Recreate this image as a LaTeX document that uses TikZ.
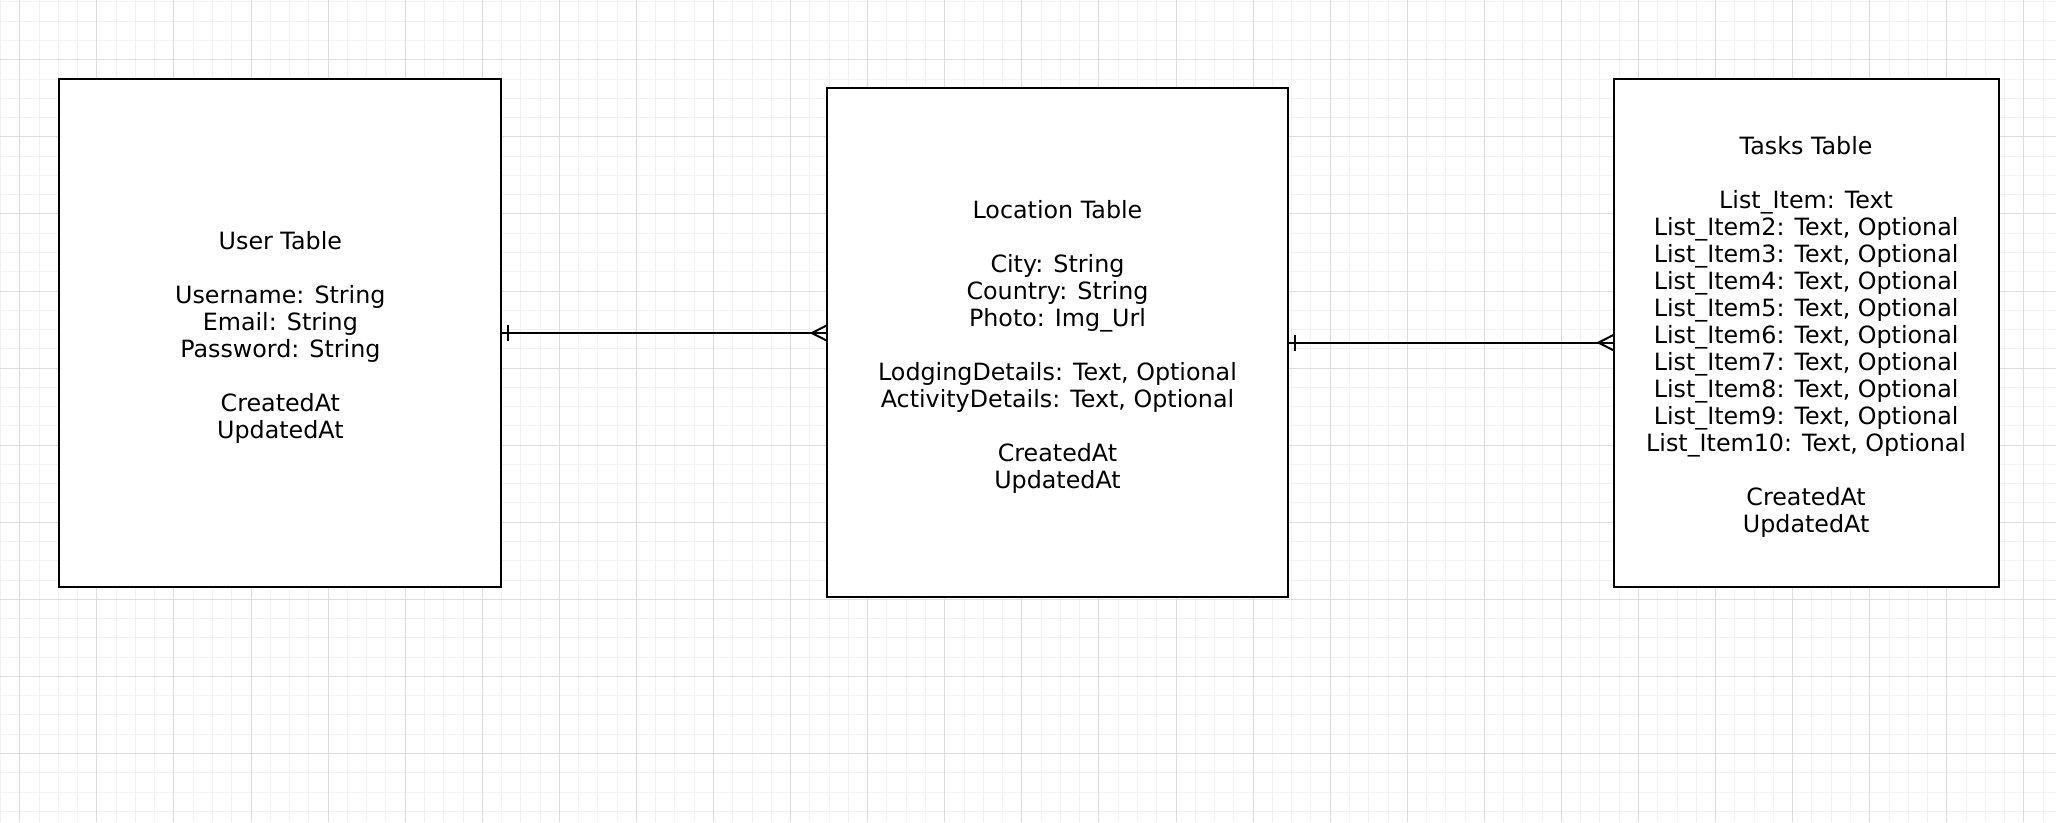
\documentclass[tikz,border=0pt]{standalone}
\usepackage{fontspec}
\setmainfont{DejaVu Sans}
\usetikzlibrary{decorations.markings}
\definecolor{gridmajor}{RGB}{221,221,221}
\definecolor{gridminor}{RGB}{242,242,242}
\tikzset{
  tbl/.style={draw,line width=1pt,fill=white,inner sep=0pt,outer sep=0pt},
  tbltxt/.style={align=center,inner sep=0pt,font=\fontsize{11.9}{13.5}\selectfont},
  rel/.style={line width=1pt,postaction=decorate,decoration={markings,
    mark=at position 3.5pt with {\draw[line width=1pt] (0,-4pt)--(0,4pt);},
    mark=at position 1 with {\draw[line width=1pt] (0,-3.9pt)--(-7.65pt,0)--(0,3.9pt);}}},
}
\begin{document}
\begin{tikzpicture}[x=0.5pt,y=-0.5pt]
  % background grid
  \fill[white] (0,0) rectangle (2056,822);
  \begin{scope}[shift={(19.3,59.3)}]
    \draw[gridminor,line width=0.5pt,step=9.64pt] (-19.3,762.7) grid (2036.7,-59.3);
    \draw[gridmajor,line width=0.5pt,step=38.56pt] (-19.3,762.7) grid (2036.7,-59.3);
  \end{scope}
  \useasboundingbox (0,0) rectangle (2056,822);

  % tables
  \node[tbl,minimum width=221pt,minimum height=254.25pt] (user) at (280,332.7) {};
  \node[tbl,minimum width=230.5pt,minimum height=254.3pt] (loc) at (1057.5,342.3) {};
  \node[tbl,minimum width=192.5pt,minimum height=254pt] (tasks) at (1806.5,333) {};

  \node[tbltxt] (usertxt) at ([yshift=-2pt]user.center)
    {User Table\\~\\Username: String\\Email: String\\Password: String\\~\\CreatedAt\\UpdatedAt};
  \node[tbltxt] (loctxt) at ([yshift=-2pt]loc.center)
    {Location Table\\~\\City: String\\Country: String\\Photo: Img\_Url\\~\\LodgingDetails: Text, Optional\\ActivityDetails: Text, Optional\\~\\CreatedAt\\UpdatedAt};
  \node[tbltxt] (taskstxt) at ([yshift=-2pt]tasks.center)
    {Tasks Table\\~\\List\_Item: Text\\List\_Item2: Text, Optional\\List\_Item3: Text, Optional\\List\_Item4: Text, Optional\\List\_Item5: Text, Optional\\List\_Item6: Text, Optional\\List\_Item7: Text, Optional\\List\_Item8: Text, Optional\\List\_Item9: Text, Optional\\List\_Item10: Text, Optional\\~\\CreatedAt\\UpdatedAt};

  % one-to-many links
  \draw[rel] (user.east) -- (user.east -| loc.west);
  \draw[rel] (loc.east) -- (loc.east -| tasks.west);
\end{tikzpicture}
\end{document}
